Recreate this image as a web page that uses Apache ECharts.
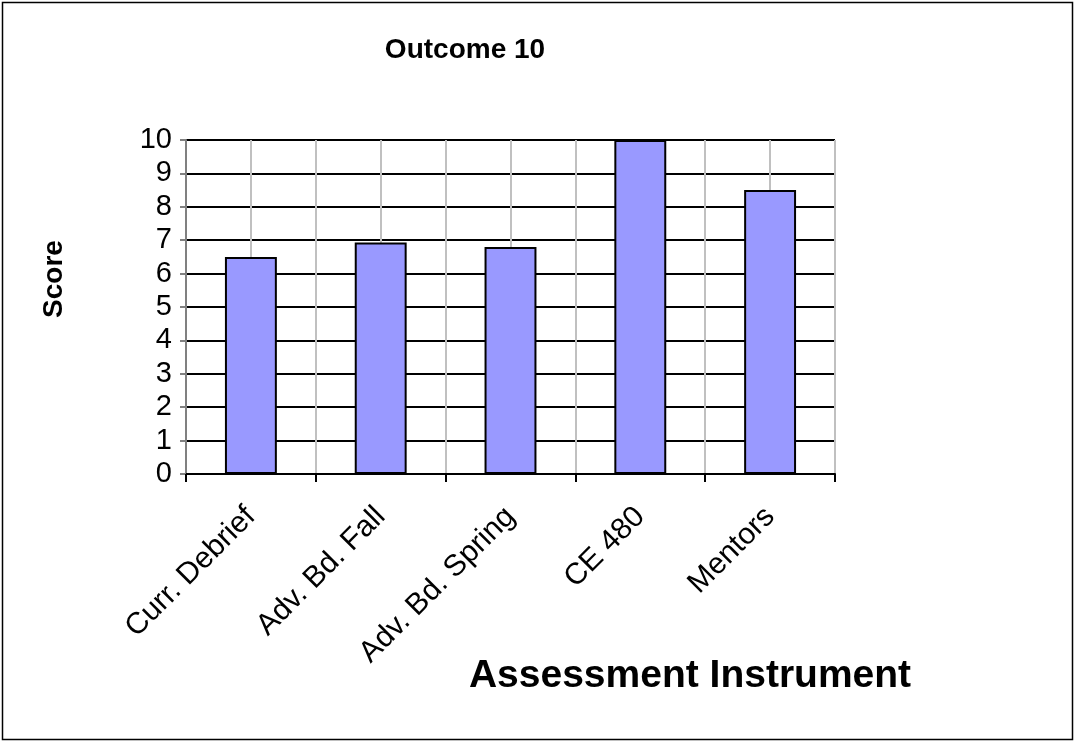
<!DOCTYPE html>
<html>
<head>
<meta charset="utf-8">
<title>Outcome 10</title>
<script src="https://cdn.jsdelivr.net/npm/echarts@6/dist/echarts.min.js"></script>
<style>
  html, body { margin: 0; padding: 0; background: #fff; }
  #chart { width: 1075px; height: 742px; }
</style>
</head>
<body>
<div id="chart"></div>
<script>
// Assessment instruments and their scores for Outcome 10
const categories = ['Curr. Debrief', 'Adv. Bd. Fall', 'Adv. Bd. Spring', 'CE 480', 'Mentors'];
const scores = [6.5, 6.93, 6.8, 10, 8.5];
const yTicks = [0, 1, 2, 3, 4, 5, 6, 7, 8, 9, 10];

const FONT = '"Liberation Sans", Arial, sans-serif';
const chart = echarts.init(document.getElementById('chart'), null, { renderer: 'canvas' });

chart.setOption({
  backgroundColor: '#ffffff',
  animation: false,
  graphic: [
    {
      type: 'rect',
      shape: { x: 2.5, y: 2.5, width: 1070, height: 737 },
      style: { fill: 'none', stroke: '#000', lineWidth: 1.5 },
      silent: true
    },
    {
      type: 'text',
      x: 465, y: 50,
      style: {
        text: 'Outcome 10', fill: '#000',
        font: 'bold 28px ' + FONT,
        textAlign: 'center', textVerticalAlign: 'middle'
      },
      silent: true
    },
    {
      type: 'text',
      x: 690, y: 676,
      style: {
        text: 'Assessment Instrument', fill: '#000',
        font: 'bold 39px ' + FONT,
        textAlign: 'center', textVerticalAlign: 'middle'
      },
      silent: true
    },
    {
      type: 'text',
      x: 54, y: 279,
      rotation: Math.PI / 2,
      style: {
        text: 'Score', fill: '#000',
        font: 'bold 28px ' + FONT,
        textAlign: 'center', textVerticalAlign: 'middle'
      },
      silent: true
    }
  ],
  grid: { left: 186, top: 140, width: 649, height: 334, containLabel: false },
  xAxis: [
    {
      type: 'category',
      data: categories,
      boundaryGap: true,
      axisLine: { show: true, lineStyle: { color: '#000', width: 2 } },
      axisTick: { show: true, length: 8, inside: false, lineStyle: { color: '#000', width: 2 } },
      axisLabel: {
        rotate: 45, margin: 38,
        fontFamily: FONT, fontSize: 30, color: '#000'
      },
      splitLine: { show: false }
    },
    {
      // half-category grid, giving lines at bar centres and boundaries
      type: 'value',
      position: 'bottom',
      min: 0, max: categories.length, interval: 0.5,
      axisLine: { show: false },
      axisTick: { show: false },
      axisLabel: { show: false },
      splitLine: { show: true, lineStyle: { color: '#c0c0c0', width: 2 } }
    }
  ],
  yAxis: {
    type: 'value',
    min: yTicks[0], max: yTicks[yTicks.length - 1], interval: 1,
    axisLine: { show: true, lineStyle: { color: '#808080', width: 2 } },
    axisTick: { show: true, length: 6, lineStyle: { color: '#808080', width: 2 } },
    axisLabel: { fontFamily: FONT, fontSize: 29, color: '#000', margin: 14 },
    splitLine: { show: true, lineStyle: { color: '#000', width: 2 } }
  },
  series: [
    {
      type: 'bar',
      xAxisIndex: 0,
      data: scores,
      barWidth: '40%',
      itemStyle: { color: '#9999ff', borderColor: '#000', borderWidth: 2 },
      z: 3
    }
  ]
});
</script>
</body>
</html>
